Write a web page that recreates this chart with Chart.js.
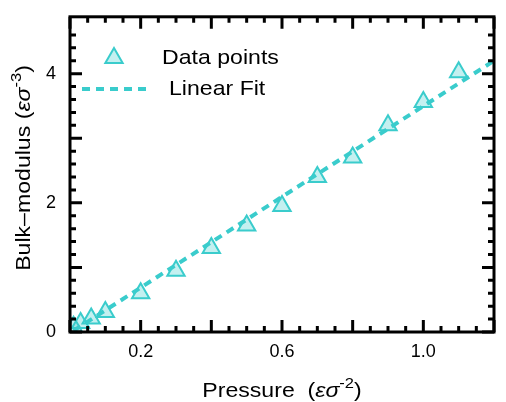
<!DOCTYPE html>
<html>
<head>
<meta charset="utf-8">
<script src="https://cdn.jsdelivr.net/npm/chart.js@4/dist/chart.umd.min.js"></script>
<style>
  body { margin: 0; background: #fff; }
  #wrap { width: 506px; height: 402px; }
</style>
</head>
<body>
<div id="wrap"><canvas id="chart" width="506" height="402"></canvas></div>
<script>
// values
const pressure = [0.01, 0.03, 0.06, 0.1, 0.2, 0.3, 0.4, 0.5, 0.6, 0.7, 0.8, 0.9, 1.0, 1.1];
const bulkModulus = [0.08, 0.14, 0.21, 0.31, 0.6, 0.95, 1.3, 1.65, 1.95, 2.4, 2.7, 3.2, 3.56, 4.02];
const fitX = [0.01, 1.2];
const fitY = [0.02, 4.2];
const xLabels = [0.2, 0.6, 1.0];
const yLabels = [0, 2, 4];

const cyan = "rgb(58, 204, 204)";
const cyanFill = "rgba(58, 204, 204, 0.3)";
const font = "'Liberation Sans', Arial, sans-serif";
const stretch = 1.1; // the original text is drawn a bit wide

function near(v, list) {
    return list.some(l => Math.abs(v - l) < 1e-6);
}

function drawTriangle(ctx, x, y, r) {
    ctx.beginPath();
    for (let i = 0; i < 3; i++) {
        const a = i * 2 * Math.PI / 3;
        const px = x + Math.sin(a) * r;
        const py = y - Math.cos(a) * r;
        if (i === 0) ctx.moveTo(px, py); else ctx.lineTo(px, py);
    }
    ctx.closePath();
    ctx.fillStyle = cyanFill;
    ctx.fill();
    ctx.lineWidth = 2;
    ctx.strokeStyle = cyan;
    ctx.stroke();
}

// text with italic / superscript bits, widened by "stretch"
function drawRich(ctx, parts, x, y, size, centered) {
    const fontFor = p => (p.italic ? "italic " : "") + (p.sup ? Math.round(size * 0.7) : size) + "px " + font;
    let total = 0;
    parts.forEach(p => { ctx.font = fontFor(p); total += ctx.measureText(p.t).width; });
    ctx.save();
    ctx.translate(x, y);
    ctx.scale(stretch, 1);
    let cx = centered ? -total / 2 : 0;
    ctx.textAlign = "left";
    ctx.textBaseline = "alphabetic";
    ctx.fillStyle = "#000";
    parts.forEach(p => {
        ctx.font = fontFor(p);
        ctx.fillText(p.t, cx, p.sup ? -size * 0.42 : 0);
        cx += ctx.measureText(p.t).width;
    });
    ctx.restore();
}

const framePlugin = {
    id: "frame",
    afterDatasetsDraw(chart) {
        const ctx = chart.ctx;
        const a = chart.chartArea;
        const xs = chart.scales.x;
        const ys = chart.scales.y;
        ctx.save();
        ctx.strokeStyle = "#000";
        ctx.lineWidth = 3;
        ctx.lineCap = "butt";
        // inward ticks on all four sides
        xs.ticks.forEach(t => {
            const v = Math.round(t.value * 100) / 100;
            if (Math.abs(v * 20 - Math.round(v * 20)) > 1e-6) return;
            const px = xs.getPixelForValue(t.value);
            const len = Math.abs(v * 5 - Math.round(v * 5)) < 1e-6 ? 12 : 6;
            ctx.beginPath();
            ctx.moveTo(px, a.bottom); ctx.lineTo(px, a.bottom - len);
            ctx.moveTo(px, a.top); ctx.lineTo(px, a.top + len);
            ctx.stroke();
        });
        ys.ticks.forEach(t => {
            const v = Math.round(t.value * 100) / 100;
            if (Math.abs(v * 5 - Math.round(v * 5)) > 1e-6) return;
            const py = ys.getPixelForValue(t.value);
            const len = Math.abs(v - Math.round(v)) < 1e-6 ? 12 : 6;
            ctx.beginPath();
            ctx.moveTo(a.left, py); ctx.lineTo(a.left + len, py);
            ctx.moveTo(a.right, py); ctx.lineTo(a.right - len, py);
            ctx.stroke();
        });
        ctx.strokeRect(a.left, a.top, a.right - a.left, a.bottom - a.top);

        // legend
        drawTriangle(ctx, 114, 58, 10);
        ctx.setLineDash([8, 6]);
        ctx.lineWidth = 4;
        ctx.strokeStyle = cyan;
        ctx.beginPath();
        ctx.moveTo(82, 89); ctx.lineTo(152, 89);
        ctx.stroke();
        ctx.setLineDash([]);
        drawRich(ctx, [{ t: "Data points" }], 162, 64, 21, false);
        drawRich(ctx, [{ t: "Linear Fit" }], 169, 95, 21, false);

        // axis titles
        drawRich(ctx, [
            { t: "Pressure  (" },
            { t: "\u03b5\u03c3", italic: true },
            { t: "-2", sup: true },
            { t: ")" }
        ], (a.left + a.right) / 2, 397, 21, true);
        ctx.translate(30, 168);
        ctx.rotate(-Math.PI / 2);
        drawRich(ctx, [
            { t: "Bulk\u2013modulus (" },
            { t: "\u03b5\u03c3", italic: true },
            { t: "-3", sup: true },
            { t: ")" }
        ], 0, 0, 21, true);
        ctx.restore();
    }
};

new Chart(document.getElementById("chart"), {
    type: "scatter",
    data: {
        datasets: [
            {
                label: "Linear Fit",
                type: "line",
                data: fitX.map((x, i) => ({ x: x, y: fitY[i] })),
                borderColor: cyan,
                borderWidth: 4,
                borderDash: [8, 6],
                pointRadius: 0,
                fill: false,
                order: 0
            },
            {
                label: "Data points",
                data: pressure.map((x, i) => ({ x: x, y: bulkModulus[i] })),
                pointStyle: "triangle",
                pointRadius: 10,
                pointHoverRadius: 10,
                backgroundColor: cyanFill,
                borderColor: cyan,
                borderWidth: 2,
                order: 1
            }
        ]
    },
    options: {
        responsive: false,
        animation: false,
        layout: { padding: { top: 10, right: 7, left: 0, bottom: 0 } },
        plugins: {
            legend: { display: false },
            tooltip: { enabled: false }
        },
        scales: {
            x: {
                type: "linear",
                min: 0,
                max: 1.2,
                grid: { display: false },
                border: { display: false },
                afterFit: s => { s.height = 70; },
                ticks: {
                    stepSize: 0.05,
                    autoSkip: false,
                    maxRotation: 0,
                    padding: 1,
                    color: "#000",
                    font: { family: font, size: 18 },
                    callback: v => near(v, xLabels) ? v.toFixed(1) : ""
                }
            },
            y: {
                type: "linear",
                min: 0,
                max: 4.88,
                grid: { display: false },
                border: { display: false },
                afterFit: s => { s.width = 70; },
                ticks: {
                    stepSize: 0.2,
                    autoSkip: false,
                    padding: 6,
                    color: "#000",
                    font: { family: font, size: 18 },
                    callback: v => near(v, yLabels) ? String(Math.round(v)) : ""
                }
            }
        }
    },
    plugins: [framePlugin]
});
</script>
</body>
</html>
